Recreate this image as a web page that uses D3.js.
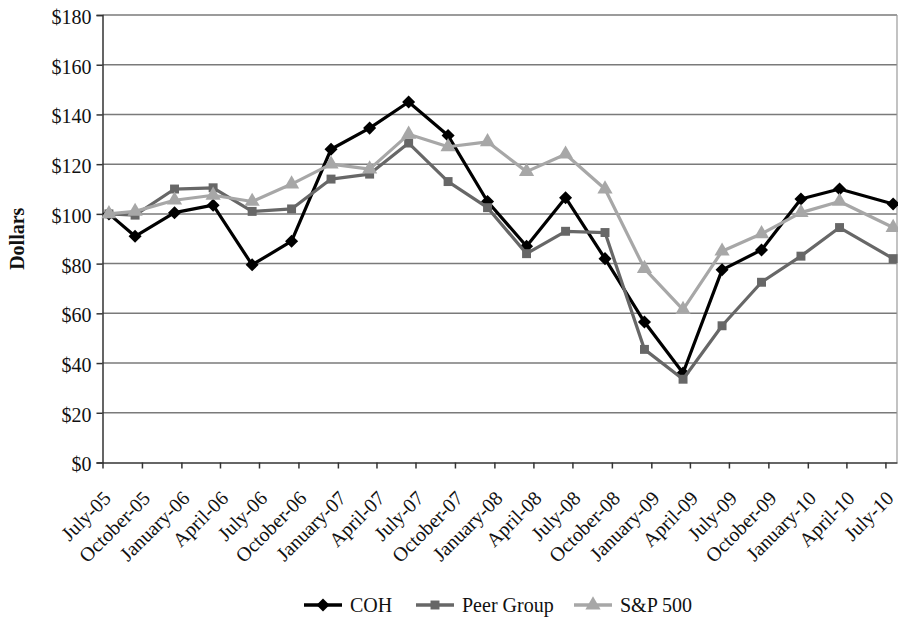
<!DOCTYPE html>
<html>
<head>
<meta charset="utf-8">
<script src="https://cdn.jsdelivr.net/npm/d3@7"></script>
<style>
  html, body { margin: 0; padding: 0; background: #fff; }
  svg { display: block; }
  text { font-family: "Liberation Serif", "DejaVu Serif", serif; fill: #111; }
</style>
</head>
<body>
<svg id="chart" width="898" height="619"></svg>
<script>
// ---- data ----
const categories = ["July-05","October-05","January-06","April-06","July-06","October-06",
  "January-07","April-07","July-07","October-07","January-08","April-08","July-08",
  "October-08","January-09","April-09","July-09","October-09","January-10","April-10","July-10"];

const pointDates = ["2005-07-16","2005-09-15","2005-12-16","2006-03-16","2006-06-15","2006-09-15",
  "2006-12-16","2007-03-16","2007-06-15","2007-09-15","2007-12-16","2008-03-16","2008-06-15",
  "2008-09-15","2008-12-16","2009-03-16","2009-06-15","2009-09-15","2009-12-16","2010-03-16","2010-07-19"];

const cohValues  = [100, 91, 100.5, 103.5, 79.5, 89, 126, 134.5, 145, 131.5, 105, 87, 106.5, 82, 56.5, 36, 77.5, 85.5, 106, 110, 104];
const peerValues = [100, 99.5, 110, 110.5, 101, 102, 114, 116, 128.5, 113, 102.5, 84, 93, 92.5, 45.5, 33.5, 55, 72.5, 83, 94.5, 82];
const spValues   = [100, 101, 105.5, 107.5, 105, 112, 120, 118, 132, 127, 129, 117, 124, 110, 78, 61.5, 85, 92, 100.5, 105, 94.5];

const seriesNames = ["COH", "Peer Group", "S&P 500"];
const yTicks = [0, 20, 40, 60, 80, 100, 120, 140, 160, 180];
const axisStart = "2005-07-01";
const axisEnd = "2010-07-28";
const yTitle = "Dollars";

// ---- chart ----
(function () {
const svg = d3.select("#chart");
const parseISO = d3.timeParse("%Y-%m-%d");
const parseCat = d3.timeParse("%B-%y");

const mLeft = 102.5, mRight = 897, mTop = 15, mBottom = 462.5;
const x = d3.scaleTime().domain([parseISO(axisStart), parseISO(axisEnd)]).range([mLeft, mRight]);
const y = d3.scaleLinear().domain([0, 180]).range([mBottom, mTop]);

const fmt = d => "$" + d;

// gridlines
svg.append("g").selectAll("line").data(yTicks.filter(d => d > 0)).join("line")
  .attr("x1", mLeft).attr("x2", mRight)
  .attr("y1", d => y(d)).attr("y2", d => y(d))
  .attr("stroke", "#7a7a7a").attr("stroke-width", 1.5);

// right border
svg.append("line").attr("x1", mRight).attr("x2", mRight).attr("y1", mTop).attr("y2", mBottom)
  .attr("stroke", "#9a9a9a").attr("stroke-width", 1.2);

// y axis
const yAxis = d3.axisLeft(y).tickValues(yTicks).tickFormat(fmt).tickSize(6).tickPadding(5);
const yg = svg.append("g").attr("transform", `translate(${mLeft},0)`).call(yAxis);
yg.select(".domain").attr("stroke", "#333").attr("stroke-width", 1.5);
yg.selectAll(".tick line").attr("stroke", "#333").attr("stroke-width", 1.5);
yg.selectAll(".tick text").attr("font-size", 20).attr("dy", "0.42em")
  .attr("font-family", "Liberation Serif").attr("fill", "#222");

// x axis
const tickDates = categories.map(c => parseCat(c));
const xAxis = d3.axisBottom(x).tickValues(tickDates).tickFormat((d, i) => categories[i]).tickSize(6).tickSizeOuter(0);
const xg = svg.append("g").attr("transform", `translate(0,${mBottom})`).call(xAxis);
xg.select(".domain").attr("stroke", "#333").attr("stroke-width", 1.5);
xg.selectAll(".tick line").attr("stroke", "#333").attr("stroke-width", 1.5);
xg.selectAll(".tick text")
  .attr("font-size", 20).attr("font-family", "Liberation Serif").attr("fill", "#222")
  .attr("text-anchor", "end")
  .attr("y", 0).attr("dy", 0)
  .attr("transform", "translate(9,37) rotate(-45)");

// y title
svg.append("text")
  .attr("transform", `translate(24,${(mTop + mBottom) / 2}) rotate(-90)`)
  .attr("text-anchor", "middle")
  .attr("font-size", 20).attr("font-weight", "bold")
  .text(yTitle);

// series
const dates = pointDates.map(parseISO);
const series = [
  { name: seriesNames[0], values: cohValues,  color: "#000000", symbol: d3.symbolSquare,   size: 85,  rot: 45, width: 3.2 },
  { name: seriesNames[1], values: peerValues, color: "#676767", symbol: d3.symbolSquare,   size: 80,  rot: 0,  width: 3.2 },
  { name: seriesNames[2], values: spValues,   color: "#a7a7a7", symbol: d3.symbolTriangle, size: 100, rot: 0,  width: 3.2 }
];

const line = d3.line().x(d => x(d[0])).y(d => y(d[1]));

series.forEach(s => {
  const pts = s.values.map((v, i) => [dates[i], v]);
  const g = svg.append("g");
  g.append("path").datum(pts).attr("d", line)
    .attr("fill", "none").attr("stroke", s.color).attr("stroke-width", s.width)
    .attr("stroke-linejoin", "round");
  g.selectAll("path.m").data(pts).join("path").attr("class", "m")
    .attr("transform", d => `translate(${x(d[0])},${y(d[1])}) rotate(${s.rot})`)
    .attr("d", d3.symbol().type(s.symbol).size(s.size))
    .attr("fill", s.color);
});

// legend
const legendX = [304, 416, 574];
const legendY = 605;
const lg = svg.append("g").selectAll("g").data(series).join("g")
  .attr("transform", (d, i) => `translate(${legendX[i]},${legendY})`);
lg.append("line").attr("x1", 0).attr("x2", 38).attr("y1", 0).attr("y2", 0)
  .attr("stroke", d => d.color).attr("stroke-width", 3.5);
lg.append("path").attr("transform", d => `translate(19,0) rotate(${d.rot})`)
  .attr("d", d => d3.symbol().type(d.symbol).size(d.size)())
  .attr("fill", d => d.color);
lg.append("text").attr("x", 46).attr("y", 0).attr("dy", "0.35em")
  .attr("font-size", 20).text(d => d.name);
})();
</script>
</body>
</html>
